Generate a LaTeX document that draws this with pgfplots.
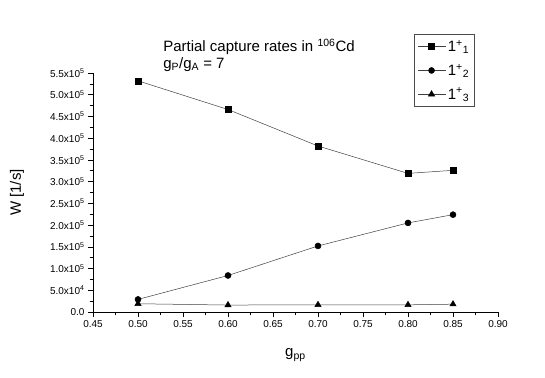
\documentclass[border=0pt]{standalone}
\usepackage{pgfplots}
\pgfplotsset{compat=1.18}
\usepackage{fontspec}
\setmainfont{Liberation Sans}
\begin{document}
\begin{tikzpicture}
\path[use as bounding box] (-93pt,-65pt) rectangle (452pt,312pt);
\begin{axis}[
  at={(0pt,0pt)}, anchor=origin,
  scale only axis, width=405pt, height=239pt,
  xmin=0.45, xmax=0.90, ymin=0, ymax=5.5e5,
  clip=false,
  axis lines*=left, axis line style={-, line width=0.6pt},
  tick align=outside, major tick length=5pt, minor tick length=3pt,
  every tick/.style={black, line width=0.6pt},
  xtick={0.45,0.50,...,0.90},
  xticklabels={0.45,0.50,0.55,0.60,0.65,0.70,0.75,0.80,0.85,0.90},
  ytick={0,50000,100000,150000,200000,250000,300000,350000,400000,450000,500000,550000},
  yticklabels={0.0,5.0x10\textsuperscript{4},1.0x10\textsuperscript{5},1.5x10\textsuperscript{5},2.0x10\textsuperscript{5},2.5x10\textsuperscript{5},3.0x10\textsuperscript{5},3.5x10\textsuperscript{5},4.0x10\textsuperscript{5},4.5x10\textsuperscript{5},5.0x10\textsuperscript{5},5.5x10\textsuperscript{5}},
  minor x tick num=1, minor y tick num=1,
  scaled y ticks=false,
  ticklabel style={font=\fontsize{10}{12}\selectfont},
  xlabel={g\textsubscript{pp}}, ylabel={W [1/s]},
  label style={font=\fontsize{15}{17}\selectfont},
  xlabel style={at={(202.5pt,-43pt)}, anchor=center},
  ylabel style={at={(-76pt,119.5pt)}, anchor=center},
  legend style={at={(321pt,278pt)}, anchor=north west, draw=black!70, line width=0.6pt,
    font=\fontsize{15}{17}\selectfont, row sep=7pt, inner xsep=3pt, inner ysep=4pt},
  legend cell align=left,
  legend image code/.code={\draw[mark repeat=2,mark phase=2] plot coordinates {(0pt,0pt) (14pt,0pt) (28pt,0pt)};},
  every axis plot/.append style={black!75, line width=0.5pt, mark options={fill=black, draw=black, solid}},
]
\addplot[mark=square*, mark size=3pt] coordinates {
  (0.50,5.32e5) (0.60,4.66e5) (0.70,3.82e5) (0.80,3.19e5) (0.85,3.26e5)};
\addlegendentry{1\textsuperscript{+}\textsubscript{1}}
\addplot[mark=*, mark size=3pt] coordinates {
  (0.50,0.29e5) (0.60,0.84e5) (0.70,1.52e5) (0.80,2.05e5) (0.85,2.24e5)};
\addlegendentry{1\textsuperscript{+}\textsubscript{2}}
\addplot[mark=triangle*, mark size=3.6pt] coordinates {
  (0.50,1.9e4) (0.60,1.6e4) (0.70,1.65e4) (0.80,1.65e4) (0.85,1.8e4)};
\addlegendentry{1\textsuperscript{+}\textsubscript{3}}
\node[anchor=west, inner sep=0pt, font=\fontsize{15}{17}\selectfont] at (rel axis cs:0.173,1.11) {Partial capture rates in \textsuperscript{106}Cd};
\node[anchor=west, inner sep=0pt, font=\fontsize{15}{17}\selectfont] at (rel axis cs:0.173,1.035) {g\textsubscript{P}/g\textsubscript{A} = 7};
\end{axis}
\end{tikzpicture}
\end{document}
